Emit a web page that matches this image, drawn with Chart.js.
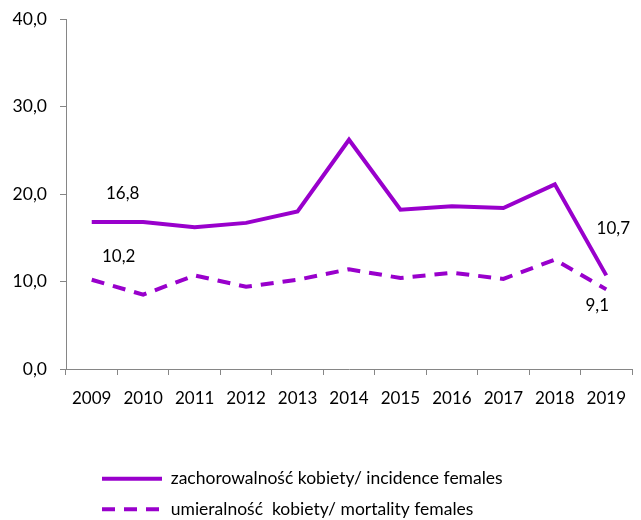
<!DOCTYPE html>
<html><head><meta charset="utf-8">
<script src="https://cdn.jsdelivr.net/npm/chart.js@4/dist/chart.umd.min.js"></script>
<style>html,body{margin:0;padding:0;background:#fff}#wrap{width:641px;height:520px}</style>
</head><body><div id="wrap"><canvas id="c" width="641" height="520"></canvas></div>
<script>
const years = ['2009','2010','2011','2012','2013','2014','2015','2016','2017','2018','2019'];
const incidence = [16.8, 16.8, 16.2, 16.7, 18.0, 26.2, 18.2, 18.6, 18.4, 21.1, 10.7];
const mortality = [10.2, 8.5, 10.7, 9.4, 10.2, 11.4, 10.4, 11.0, 10.3, 12.5, 9.1];
const seriesNames = ['zachorowalność kobiety/ incidence females', 'umieralność  kobiety/ mortality females'];
const yMin = 0, yMax = 40, yStep = 10;

const FONT = 'Lato';
const PURPLE = '#9900CC';
const AXIS = '#868686';
const fmt = v => Number(v).toFixed(1).replace('.', ',');

// which points get a value label, and where relative to the point
const pointLabels = [
  {ds: 0, i: 0, dx: 31, dy: -28},
  {ds: 1, i: 0, dx: 27, dy: -23},
  {ds: 0, i: 10, dx: 7, dy: -47},
  {ds: 1, i: 10, dx: -9, dy: 16}
];

const labelPlugin = {
  id: 'pointLabels',
  afterDatasetsDraw(chart) {
    const ctx = chart.ctx;
    ctx.save();
    ctx.font = '17px ' + FONT;
    ctx.fillStyle = '#000';
    ctx.textAlign = 'center';
    ctx.textBaseline = 'middle';
    pointLabels.forEach(p => {
      const el = chart.getDatasetMeta(p.ds).data[p.i];
      const v = chart.data.datasets[p.ds].data[p.i];
      ctx.fillText(fmt(v), el.x + p.dx, el.y + p.dy);
    });
    ctx.restore();
  }
};

const legendShift = {
  id: 'legendShift',
  afterLayout(chart) {
    chart.legend.left = 89;
    chart.legend.top += 8;
  }
};

new Chart(document.getElementById('c'), {
  type: 'line',
  data: {
    labels: years,
    datasets: [
      {label: seriesNames[0], data: incidence, borderColor: PURPLE, backgroundColor: PURPLE,
       borderWidth: 4, pointRadius: 0, tension: 0, fill: false},
      {label: seriesNames[1], data: mortality, borderColor: PURPLE, backgroundColor: PURPLE,
       borderWidth: 4, borderDash: [13, 9], pointRadius: 0, tension: 0, fill: false}
    ]
  },
  options: {
    responsive: false,
    animation: false,
    layout: {padding: {top: 19, right: 9, left: 0, bottom: 0}},
    plugins: {
      tooltip: {enabled: false},
      legend: {
        position: 'bottom',
        align: 'start',
        labels: {
          usePointStyle: true,
          pointStyle: 'line',
          pointStyleWidth: 60,
          padding: 13,
          color: '#000',
          font: {family: FONT, size: 17.5},
          generateLabels(chart) {
            const items = Chart.defaults.plugins.legend.labels.generateLabels(chart);
            items.forEach(it => {
              const ds = chart.data.datasets[it.datasetIndex];
              it.lineDash = ds.borderDash || [];
              it.lineWidth = ds.borderWidth;
              it.strokeStyle = ds.borderColor;
              it.pointStyle = 'line';
            });
            return items;
          }
        }
      }
    },
    scales: {
      x: {
        offset: true,
        grid: {offset: true, drawOnChartArea: false, drawTicks: true, tickLength: 6, color: AXIS},
        border: {color: AXIS, width: 1},
        ticks: {color: '#000', font: {family: FONT, size: 17}, padding: 13, maxRotation: 0, autoSkip: false},
        afterFit(s) { s.height = 80; }
      },
      y: {
        min: yMin, max: yMax,
        grid: {drawOnChartArea: false, drawTicks: true, tickLength: 6, color: AXIS},
        border: {color: AXIS, width: 1},
        ticks: {stepSize: yStep, color: '#000', font: {family: FONT, size: 17.5}, padding: 13, callback: v => fmt(v)},
        afterFit(s) { s.width = 66; s.paddingTop = 0; s.paddingBottom = 0; }
      }
    }
  },
  plugins: [labelPlugin, legendShift]
});
</script>
</body></html>
